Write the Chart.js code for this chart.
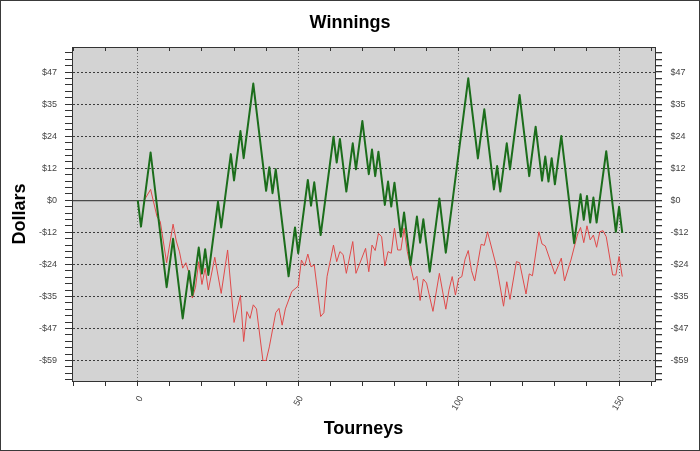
<!DOCTYPE html>
<html>
<head>
<meta charset="utf-8">
<script src="https://cdn.jsdelivr.net/npm/chart.js@4/dist/chart.umd.min.js"></script>
<style>
	html, body { margin: 0; padding: 0; background: #fff; }
	canvas { display: block; }
</style>
</head>
<body>
<canvas id="chartWinnings" width="700" height="451"></canvas>
<script>
// Green line: the tourneys where it turns and the dollars there
const greenTourneys = [
	0, 1, 4, 9, 11, 14, 16, 17, 19, 20, 21, 22, 25, 26, 29, 30, 32, 33, 36, 40,
	41, 42, 43, 47, 49, 50, 53, 54, 55, 57, 61, 62, 63, 65, 67, 68, 70, 72, 73, 74,
	75, 77, 78, 79, 80, 82, 83, 85, 87, 88, 89, 91, 94, 96, 98, 103, 106, 108, 111, 112,
	113, 115, 116, 119, 122, 124, 126, 127, 128, 129, 130, 132, 136, 138, 139, 140, 141, 142, 143, 146,
	149, 150, 151,
];
const greenDollars = [
	0, -9.7, 17.6, -32, -14.2, -43.5, -26, -35, -17.4, -27, -18, -27.5, -0.5, -10, 17, 7.3, 25.5, 15.5, 43, 3.5,
	12.2, 2.6, 11.4, -28, -10, -19.5, 7.5, -2, 6.6, -12.8, 23.4, 13.9, 22.6, 3.2, 21, 11.4, 29.2, 9.6, 18.7, 8.9,
	17.9, -1.7, 6.9, -2.3, 6.5, -13.4, -4.5, -23.8, -6, -15.6, -7, -26.3, 0.7, -19.3, -1.1, 44.9, 15.4, 33.5, 4, 12.6,
	3.2, 21, 11.4, 38.8, 8.9, 27.1, 7.2, 16.1, 6.9, 15.5, 5.9, 23.7, -15.8, 2.2, -7.2, 1.6, -8.2, 1, -8.2, 18.1,
	-11.6, -2.4, -12,
];

// Red line
const redTourneys = [
	2, 4, 6, 7, 9, 11, 12, 13, 14, 15, 16, 17, 18, 19, 20, 21, 22, 24, 26, 28,
	30, 32, 33, 34, 35, 36, 37, 39, 40, 41, 43, 44, 45, 46, 48, 50, 51, 52, 53, 54,
	55, 57, 58, 59, 61, 62, 63, 64, 65, 67, 68, 71, 72, 73, 74, 75, 76, 77, 78, 79,
	80, 81, 82, 83, 84, 86, 87, 88, 89, 90, 92, 94, 96, 97, 98, 99, 100, 101, 102, 103,
	104, 105, 107, 108, 109, 112, 114, 115, 116, 118, 119, 121, 122, 123, 125, 126, 127, 130, 132, 133,
	135, 137, 138, 139, 140, 141, 142, 143, 144, 145, 146, 148, 149, 150, 151,
];
const redDollars = [
	0, 4, -6, -7.8, -23, -8.8, -15, -19, -25, -23, -27, -36, -32, -22.6, -31, -25, -33, -21, -34.3, -18.3,
	-45, -35, -52, -41, -43.5, -38.5, -40, -59, -59, -54, -41.4, -39.8, -46, -40, -33.6, -31.6, -22, -24.2, -19.8, -24.5,
	-23.8, -42.8, -41.4, -28, -16.5, -22.6, -18.9, -20, -26.9, -15.2, -26.9, -17.7, -26.3, -16.5, -18.5, -12.2, -13.4, -24.2, -18.9, -19.5,
	-10.3, -18.3, -18.3, -10.3, -18.9, -29.4, -28, -36.9, -29, -30.5, -40.9, -26.9, -40.1, -33, -28.1, -34.9, -28.8, -28.1, -21.7, -18.5,
	-25.9, -29.7, -16.2, -16.6, -11.6, -25.4, -39, -30, -36.5, -22.6, -23, -34.5, -27.1, -27.8, -11.6, -16.1, -16.8, -27.2, -21.3, -29.7,
	-22, -12.8, -10, -15.6, -9.4, -14.6, -12.8, -17.3, -11.6, -11.2, -13.4, -27.5, -27.5, -20.7, -28.1,
];

// Tick labels of the axes
const yTickValues = [-59, -47.2, -35.4, -23.6, -11.8, 0, 11.8, 23.6, 35.4, 47.2];
const yTickLabels = ["-$59", "-$47", "-$35", "-$24", "-$12", "$0", "$12", "$24", "$35", "$47"];
const xTickValues = [0, 50, 100, 150];
const xTickLabels = ["0", "50", "100", "150"];

const xMin = -20.5;
const xMax = 161.2;
const yMin = -66.55;
const yMax = 56.45;

const darkColor = "#333333";

// Makes points for a dataset
function toPoints(xs, ys) {
	return xs.map((x, i) => ({ x, y: ys[i] }));
}

// Major ticks plus the small ones between them
function buildTicks(step, parts, min, max) {
	const minor = step / parts;
	const ticks = [];
	const first = Math.ceil(min / minor - 1e-6);
	const last = Math.floor(max / minor + 1e-6);
	for (let i = first; i <= last; i++) ticks.push({ value: Math.round(i * minor * 1000) / 1000 });
	return ticks;
}

function majorIndex(values, v) {
	return values.findIndex((m) => Math.abs(m - v) < 0.01);
}

// Grey plot background and the outer frame
const framePlugin = {
	id: "frame",
	beforeDraw(chart) {
		const { ctx, chartArea } = chart;
		ctx.save();
		ctx.fillStyle = "#d3d3d3";
		ctx.fillRect(chartArea.left, chartArea.top, chartArea.right - chartArea.left, chartArea.bottom - chartArea.top);
		ctx.restore();
	},
	afterDraw(chart) {
		const { ctx } = chart;
		ctx.save();
		ctx.strokeStyle = "#3a3a3a";
		ctx.lineWidth = 2;
		ctx.strokeRect(0, 0, chart.width, chart.height);
		ctx.restore();
	},
};

function yAxis(position, width) {
	return {
		type: "linear",
		position,
		min: yMin,
		max: yMax,
		afterBuildTicks: (scale) => {
			scale.ticks = buildTicks(11.8, 5, yMin, yMax);
		},
		afterFit: (scale) => {
			scale.width = width;
		},
		ticks: {
			autoSkip: false,
			padding: position == "left" ? 8 : 8.5,
			color: "#444",
			font: { size: 9 },
			callback: (value) => {
				const i = majorIndex(yTickValues, value);
				return i < 0 ? "" : yTickLabels[i];
			},
		},
		grid: {
			tickLength: 7,
			tickColor: darkColor,
			lineWidth: position == "left" ? 1 : 1.3,
			color: (ctx) => {
				const v = ctx.tick ? ctx.tick.value : null;
				if (v === null) return "transparent";
				if (position == "right") return Math.abs(v) < 0.01 ? "#4a4a4a" : "transparent";
				return majorIndex(yTickValues, v) >= 0 && Math.abs(v) > 0.01 ? "#3c3c3c" : "transparent";
			},
		},
		border: {
			color: darkColor,
			width: 1,
			dash: position == "left" ? [2, 2] : [],
		},
		title: {
			display: position == "left",
			text: "Dollars",
			color: "#000",
			font: { size: 18, weight: "bold" },
			padding: { top: 9, bottom: 0 },
		},
	};
}

function xAxis(position, height) {
	const bottom = position == "bottom";
	return {
		type: "linear",
		position,
		min: xMin,
		max: xMax,
		afterBuildTicks: (scale) => {
			scale.ticks = buildTicks(10, 1, xMin, xMax);
		},
		afterFit: (scale) => {
			scale.height = height;
		},
		ticks: {
			display: bottom,
			autoSkip: false,
			minRotation: 60,
			maxRotation: 60,
			padding: 8,
			labelOffset: 3,
			color: "#444",
			font: { size: 9 },
			callback: (value) => {
				const i = majorIndex(xTickValues, value);
				return i < 0 ? "" : xTickLabels[i];
			},
		},
		grid: {
			drawOnChartArea: bottom,
			tickLength: bottom ? 5 : -4,
			tickColor: darkColor,
			color: (ctx) => {
				const v = ctx.tick ? ctx.tick.value : null;
				return v !== null && majorIndex(xTickValues, v) >= 0 ? "#6e6e6e" : "transparent";
			},
		},
		border: {
			color: darkColor,
			width: 1,
			dash: [1, 2],
		},
		title: {
			display: bottom,
			text: "Tourneys",
			color: "#000",
			font: { size: 18, weight: "bold" },
			padding: { top: 0, bottom: 11.2 },
		},
	};
}

Chart.defaults.font.family = "'Liberation Sans', Arial, sans-serif";

new Chart(document.getElementById("chartWinnings"), {
	type: "line",
	data: {
		datasets: [
			{
				label: "Green",
				data: toPoints(greenTourneys, greenDollars),
				borderColor: "#1b6d1b",
				borderWidth: 2,
				borderJoinStyle: "round",
				pointRadius: 0,
				tension: 0,
			},
			{
				label: "Red",
				data: toPoints(redTourneys, redDollars),
				borderColor: "#e04a4a",
				borderWidth: 1,
				borderJoinStyle: "round",
				pointRadius: 0,
				tension: 0,
			},
		],
	},
	options: {
		responsive: false,
		animation: false,
		devicePixelRatio: 1,
		layout: { padding: 0 },
		plugins: {
			legend: { display: false },
			tooltip: { enabled: false },
			title: {
				display: true,
				text: "Winnings",
				color: "#000",
				font: { size: 18, weight: "bold" },
				padding: { top: 12.2, bottom: 8.2 },
			},
		},
		scales: {
			x: xAxis("bottom", 70),
			x2: xAxis("top", 5),
			y: yAxis("left", 72),
			y2: yAxis("right", 45),
		},
	},
	plugins: [framePlugin],
});
</script>
</body>
</html>
